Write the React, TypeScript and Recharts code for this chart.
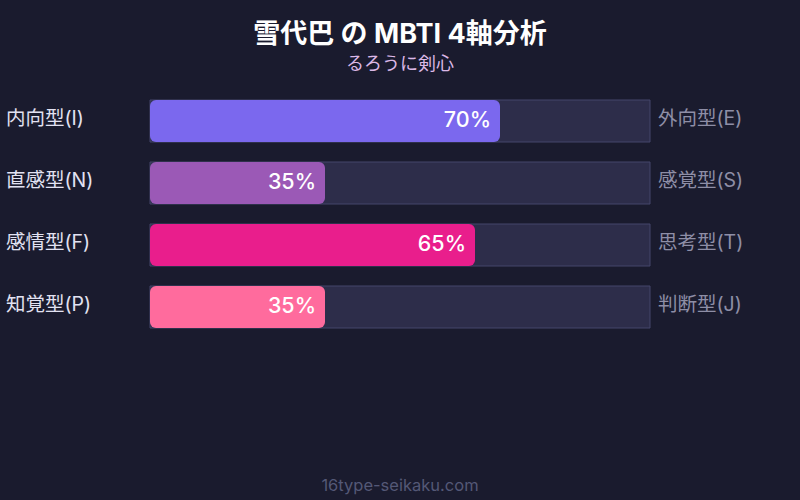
import React from 'react';
import { BarChart, Bar, XAxis, YAxis, Cell, LabelList } from 'recharts';

const leftLabels = ['内向型(I)', '直感型(N)', '感情型(F)', '知覚型(P)'];
const rightLabels = ['外向型(E)', '感覚型(S)', '思考型(T)', '判断型(J)'];
const scores = [70, 35, 65, 35];
const barColors = ['#7b68ee', '#9b59b6', '#e91e8c', '#ff6b9d'];

const FONT = "Inter, 'Noto Sans CJK JP', sans-serif";

const data = leftLabels.map((l, i) => ({ left: l, right: rightLabels[i], score: scores[i] }));

const SideLabel = (props: any) => {
  const { y, height, index, side } = props;
  const text = side === 'left' ? leftLabels[index] : rightLabels[index];
  return (
    <text
      x={side === 'left' ? 6 : 658}
      y={y + height / 2 - 3}
      dy="0.35em"
      fill={side === 'left' ? '#e2e2f2' : '#8e8ea6'}
      fontSize={19.5}
      fontFamily={FONT}
      textAnchor="start"
    >
      {text}
    </text>
  );
};

// percentage inside the right end of each bar
const ValueLabel = (props: any) => {
  const { x, y, width, height, value } = props;
  return (
    <text
      x={x + width - 9}
      y={y + height / 2 - 2}
      dy="0.35em"
      fill="#ffffff"
      fontSize={21.5}
      fontWeight={500}
      fontFamily={FONT}
      textAnchor="end"
    >
      {`${value}%`}
    </text>
  );
};

export default function App() {
  return (
    <div style={{ position: 'fixed', top: 0, left: 0, width: 800, height: 500, background: '#1a1b2e', fontFamily: FONT }}>
      <div style={{ position: 'absolute', top: 14, width: 800, textAlign: 'center', color: '#ffffff', fontSize: 27, fontWeight: 700, lineHeight: '40px' }}>
        雪代巴 の MBTI 4軸分析
      </div>
      <div style={{ position: 'absolute', top: 51, width: 800, textAlign: 'center', color: '#dcb8e6', fontSize: 18, lineHeight: '26px' }}>
        るろうに剣心
      </div>
      <div style={{ position: 'absolute', top: 473, width: 800, textAlign: 'center', color: '#545876', fontSize: 16.5, lineHeight: '24px' }}>
        16type-seikaku.com
      </div>
      <div style={{ position: 'absolute', top: 0, left: 0 }}>
        <BarChart
          width={800}
          height={500}
          data={data}
          layout="vertical"
          margin={{ top: 90, right: 150, bottom: 162, left: 150 }}
        >
          <XAxis type="number" domain={[0, 100]} hide />
          <YAxis type="category" dataKey="left" hide />
          <Bar
            dataKey="score"
            barSize={42}
            radius={6}
            isAnimationActive={false}
            background={{ fill: '#2d2d4a', stroke: '#45466a', strokeWidth: 1 }}
          >
            {data.map((d, i) => (
              <Cell key={d.left} fill={barColors[i]} />
            ))}
            <LabelList dataKey="score" content={ValueLabel} />
            <LabelList dataKey="left" content={(p: any) => <SideLabel {...p} side="left" />} />
            <LabelList dataKey="right" content={(p: any) => <SideLabel {...p} side="right" />} />
          </Bar>
        </BarChart>
      </div>
    </div>
  );
}
